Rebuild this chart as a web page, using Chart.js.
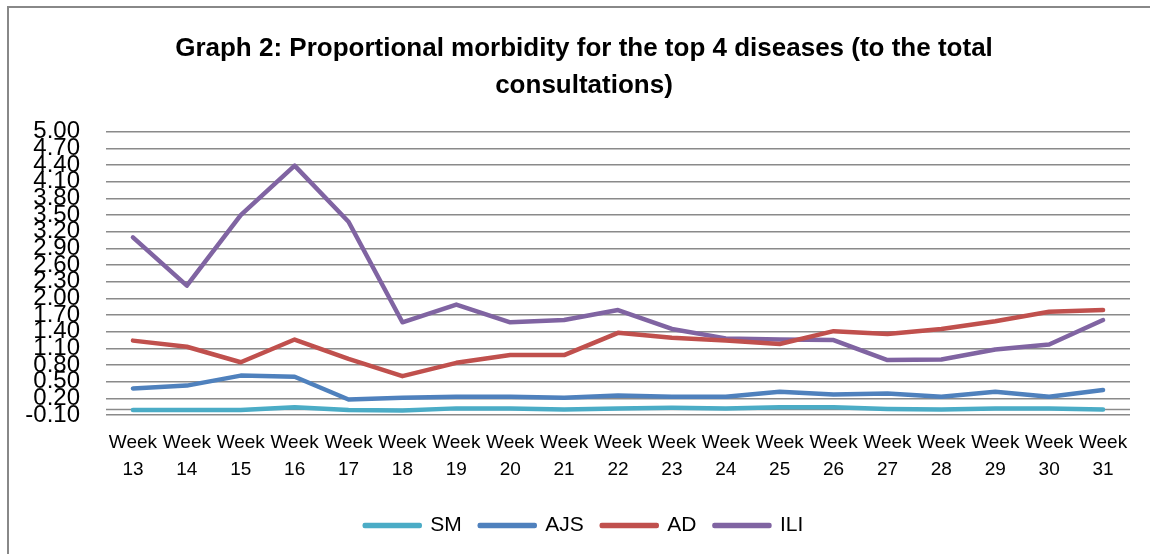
<!DOCTYPE html>
<html>
<head>
<meta charset="utf-8">
<script src="https://cdn.jsdelivr.net/npm/chart.js@4.4.1/dist/chart.umd.min.js"></script>
<style>
  html, body { margin: 0; padding: 0; background: #fff; overflow: hidden; }
  #frame { position: absolute; left: 7px; top: 6px; width: 1200px; height: 600px; border: 2px solid #888; }
  #wrap { position: absolute; left: 0; top: 0; width: 1150px; height: 554px; }
</style>
</head>
<body>
<div id="frame"></div>
<div id="wrap"><canvas id="line_chart" width="1150" height="554"></canvas></div>
<script>
  // Categories (weeks)
  const weeks = [13, 14, 15, 16, 17, 18, 19, 20, 21, 22, 23, 24, 25, 26, 27, 28, 29, 30, 31];

  // Series values
  const smValues  = [-0.01, -0.01, -0.01, 0.04, -0.01, -0.02, 0.02, 0.02, 0.00, 0.02, 0.03, 0.02, 0.04, 0.04, 0.01, 0.00, 0.02, 0.02, 0.00];
  const ajsValues = [0.38, 0.43, 0.61, 0.59, 0.18, 0.21, 0.23, 0.23, 0.21, 0.25, 0.23, 0.23, 0.32, 0.27, 0.29, 0.23, 0.32, 0.23, 0.35];
  const adValues  = [1.24, 1.13, 0.85, 1.26, 0.91, 0.60, 0.84, 0.98, 0.98, 1.38, 1.29, 1.24, 1.18, 1.41, 1.36, 1.45, 1.59, 1.76, 1.79];
  const iliValues = [3.10, 2.23, 3.50, 4.39, 3.38, 1.57, 1.89, 1.57, 1.61, 1.79, 1.45, 1.28, 1.26, 1.25, 0.89, 0.90, 1.08, 1.17, 1.61];

  // Y axis tick values
  const yTicks = [-0.1, 0.2, 0.5, 0.8, 1.1, 1.4, 1.7, 2.0, 2.3, 2.6, 2.9, 3.2, 3.5, 3.8, 4.1, 4.4, 4.7, 5.0];

  const seriesNames = ['SM', 'AJS', 'AD', 'ILI'];
  const colors = ['#4BACC6', '#4F81BD', '#C0504D', '#8064A2'];
  const allValues = [smValues, ajsValues, adValues, iliValues];

  const datasets = [];
  for (let i = 0; i < seriesNames.length; i++) {
    datasets.push({
      label: seriesNames[i],
      data: allValues[i],
      borderColor: colors[i],
      backgroundColor: colors[i],
      borderWidth: 4.5,
      borderCapStyle: 'round',
      borderJoinStyle: 'round',
      pointRadius: 0,
      tension: 0,
    });
  }

  // Excel style category axis line at zero
  const zeroLine = {
    id: 'zeroLine',
    beforeDatasetsDraw(chart) {
      const { ctx, chartArea, scales } = chart;
      const y = scales.y.getPixelForValue(0);
      ctx.save();
      ctx.strokeStyle = '#8a8a8a';
      ctx.lineWidth = 1.5;
      ctx.beginPath();
      ctx.moveTo(chartArea.left, y);
      ctx.lineTo(chartArea.right, y);
      ctx.stroke();
      ctx.restore();
    }
  };

  const ctx = document.getElementById('line_chart').getContext('2d');
  new Chart(ctx, {
    type: 'line',
    data: {
      labels: weeks.map(w => ['Week', String(w)]),
      datasets: datasets,
    },
    plugins: [zeroLine],
    options: {
      responsive: false,
      animation: false,
      layout: { padding: { left: 38, right: 20, top: 7, bottom: 8 } },
      plugins: {
        title: {
          display: true,
          text: ['Graph 2: Proportional morbidity for the top 4 diseases (to the total', 'consultations)'],
          color: '#000',
          font: { family: 'Liberation Sans', size: 26, weight: 'bold', lineHeight: 1.4 },
          padding: { top: 24, bottom: 28 },
        },
        legend: {
          position: 'bottom',
          labels: {
            color: '#000',
            font: { family: 'Liberation Sans', size: 21 },
            boxWidth: 55,
            boxHeight: 1,
            padding: 18,
          },
        },
        tooltip: { enabled: false },
      },
      scales: {
        x: {
          offset: true,
          grid: { display: false, drawTicks: false },
          border: { display: false },
          ticks: {
            color: '#000',
            autoSkip: false,
            maxRotation: 0,
            padding: 14,
            font: { family: 'Liberation Sans', size: 19, lineHeight: 1.42 },
          },
        },
        y: {
          min: -0.1,
          max: 5.0,
          afterBuildTicks: axis => { axis.ticks = yTicks.map(v => ({ value: v })); },
          afterFit: axis => {
            axis.width = 68;
            // let the wide tick labels run past the axis box instead of being clipped
            axis._computeLabelArea = () => undefined;
          },
          grid: { color: '#8a8a8a', lineWidth: 1.5, drawTicks: false },
          border: { display: false },
          ticks: {
            color: '#000',
            autoSkip: false,
            padding: 26,
            font: { family: 'Liberation Sans', size: 24 },
            callback: v => v.toFixed(2),
          },
        },
      },
    },
  });
</script>
</body>
</html>
